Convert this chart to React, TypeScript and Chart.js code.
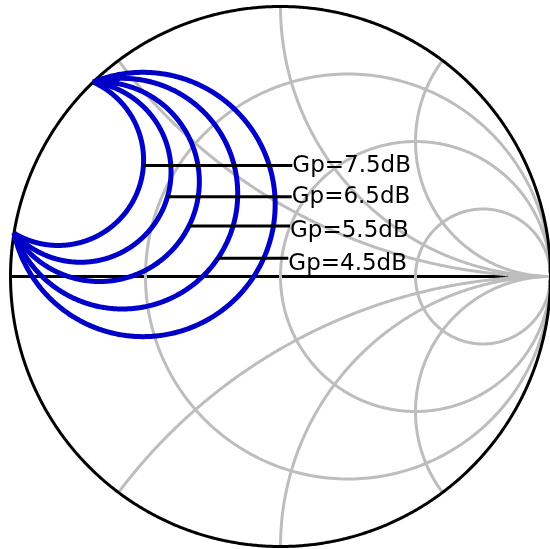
import { useEffect, useRef } from "react";
import { Chart, registerables } from "chart.js";

Chart.register(...registerables);

// Smith chart grid: constant-resistance circles and constant-reactance arcs
const resistanceCircles = [1 / 3, 1, 3];
const reactanceArcs = [0.5, 1, 2, -0.5, -1, -2];
// black part of the real axis runs from -1 up to this Γ value
const axisBlackEnd = 0.843;

// Constant operating power gain circles in the Γ_L plane.
// The device is potentially unstable, so every circle passes through the two
// points where the load stability circle meets |Γ_L| = 1 (angles in degrees).
const stabilityCrossingDeg = [133.95, 170.76];
const gainLevels = [7.5, 6.5, 5.5, 4.5, 3.5];
// offset of each circle centre from the chord midpoint, towards Γ = 0
const gainCentreOffset = [0.0193, 0.1127, 0.1922, 0.2877, 0.374];

// Labels for the first four circles: leader line height, text anchor
const labelLineIm = [0.4111, 0.2956, 0.187, 0.0674];
const labelTextRe = [0.0437, 0.0415, 0.0352, 0.0289];
const labelBaselineIm = [0.387, 0.2711, 0.1474, 0.0241];
const labelTexts = gainLevels.slice(0, 4).map((g) => `Gp=${g}dB`);

const GRID = "#bdbdbd";
const BLUE = "#0000c8";
const TWO_PI = Math.PI * 2;

type Pt = { x: number; y: number };

function arc(cx: number, cy: number, rho: number, ta: number, span: number, n = 240): Pt[] {
  const pts: Pt[] = [];
  for (let k = 0; k <= n; k++) {
    const t = ta + (span * k) / n;
    pts.push({ x: cx + rho * Math.cos(t), y: cy + rho * Math.sin(t) });
  }
  return pts;
}

// arc of a circle between two of its points, taking the side inside |Γ| = 1
function insideArc(cx: number, cy: number, rho: number, ax: number, ay: number, bx: number, by: number): Pt[] {
  const ta = Math.atan2(ay - cy, ax - cx);
  const tb = Math.atan2(by - cy, bx - cx);
  let span = (((tb - ta) % TWO_PI) + TWO_PI) % TWO_PI;
  const mid = ta + span / 2;
  const mx = cx + rho * Math.cos(mid);
  const my = cy + rho * Math.sin(mid);
  if (mx * mx + my * my > 1) span -= TWO_PI;
  return arc(cx, cy, rho, ta, span);
}

function resistancePoints(r: number): Pt[] {
  return arc(r / (1 + r), 0, 1 / (1 + r), 0, TWO_PI, 360);
}

function reactancePoints(x: number): Pt[] {
  const ex = (x * x - 1) / (x * x + 1);
  const ey = (2 * x) / (x * x + 1);
  return insideArc(1, 1 / x, 1 / Math.abs(x), 1, 0, ex, ey);
}

function gainCircle(i: number) {
  const [a1, a2] = stabilityCrossingDeg.map((d) => (d * Math.PI) / 180);
  const p1 = { x: Math.cos(a1), y: Math.sin(a1) };
  const p2 = { x: Math.cos(a2), y: Math.sin(a2) };
  const mx = (p1.x + p2.x) / 2;
  const my = (p1.y + p2.y) / 2;
  const m = Math.hypot(mx, my);
  const half = Math.hypot(p1.x - p2.x, p1.y - p2.y) / 2;
  const t = gainCentreOffset[i];
  const cx = mx - (t * mx) / m;
  const cy = my - (t * my) / m;
  return { cx, cy, rho: Math.hypot(half, t), p1, p2 };
}

function gainPoints(i: number): Pt[] {
  const { cx, cy, rho, p1, p2 } = gainCircle(i);
  return insideArc(cx, cy, rho, p1.x, p1.y, p2.x, p2.y);
}

function leaderPoints(i: number): Pt[] {
  const { cx, cy, rho } = gainCircle(i);
  const dy = labelLineIm[i] - cy;
  const x0 = cx + Math.sqrt(rho * rho - dy * dy);
  return [
    { x: x0, y: labelLineIm[i] },
    { x: labelTextRe[i], y: labelLineIm[i] },
  ];
}

const line = (data: Pt[], color: string, width: number, order: number) => ({
  data,
  showLine: true,
  borderColor: color,
  borderWidth: width,
  pointRadius: 0,
  fill: false,
  tension: 0.0001,
  clip: false as const,
  order,
  borderCapStyle: "butt" as const,
  borderJoinStyle: "round" as const,
});

const labelPlugin = {
  id: "gainLabels",
  afterDatasetsDraw(chart: any) {
    const { ctx, scales } = chart;
    ctx.save();
    ctx.fillStyle = "#000";
    ctx.font = '23px "DejaVu Sans"';
    ctx.textBaseline = "alphabetic";
    ctx.textAlign = "left";
    labelTexts.forEach((t, i) => {
      ctx.fillText(t, scales.x.getPixelForValue(labelTextRe[i]), scales.y.getPixelForValue(labelBaselineIm[i]));
    });
    ctx.restore();
  },
};

export default function App() {
  const ref = useRef<HTMLCanvasElement>(null);

  useEffect(() => {
    if (!ref.current) return;
    const datasets: any[] = [];
    resistanceCircles.forEach((r) => datasets.push(line(resistancePoints(r), GRID, 3, 60)));
    reactanceArcs.forEach((x) => datasets.push(line(reactancePoints(x), GRID, 3, 60)));
    datasets.push(line([{ x: -1, y: 0 }, { x: 1, y: 0 }], GRID, 3, 70));
    datasets.push(line([{ x: -1, y: 0 }, { x: axisBlackEnd, y: 0 }], "#000", 3, 65));
    datasets.push(line(arc(0, 0, 1, 0, TWO_PI, 480), "#000", 3, 50));
    gainLevels.forEach((_, i) => datasets.push(line(gainPoints(i), BLUE, 5, 40)));
    labelTexts.forEach((_, i) => datasets.push(line(leaderPoints(i), "#000", 3, 30)));

    const chart = new Chart(ref.current, {
      type: "scatter",
      data: { datasets },
      options: {
        responsive: false,
        animation: false,
        events: [],
        layout: { padding: 0 },
        plugins: { legend: { display: false }, tooltip: { enabled: false }, title: { display: false } },
        scales: {
          x: { type: "linear", min: -1.0389, max: 0.9981, display: false },
          y: { type: "linear", min: -1.00926, max: 1.02407, display: false },
        },
      },
      plugins: [labelPlugin],
    });
    return () => chart.destroy();
  }, []);

  return (
    <div style={{ position: "fixed", left: 0, top: 0, width: 550, height: 549, background: "#fff" }}>
      <canvas ref={ref} width={550} height={549} />
    </div>
  );
}
